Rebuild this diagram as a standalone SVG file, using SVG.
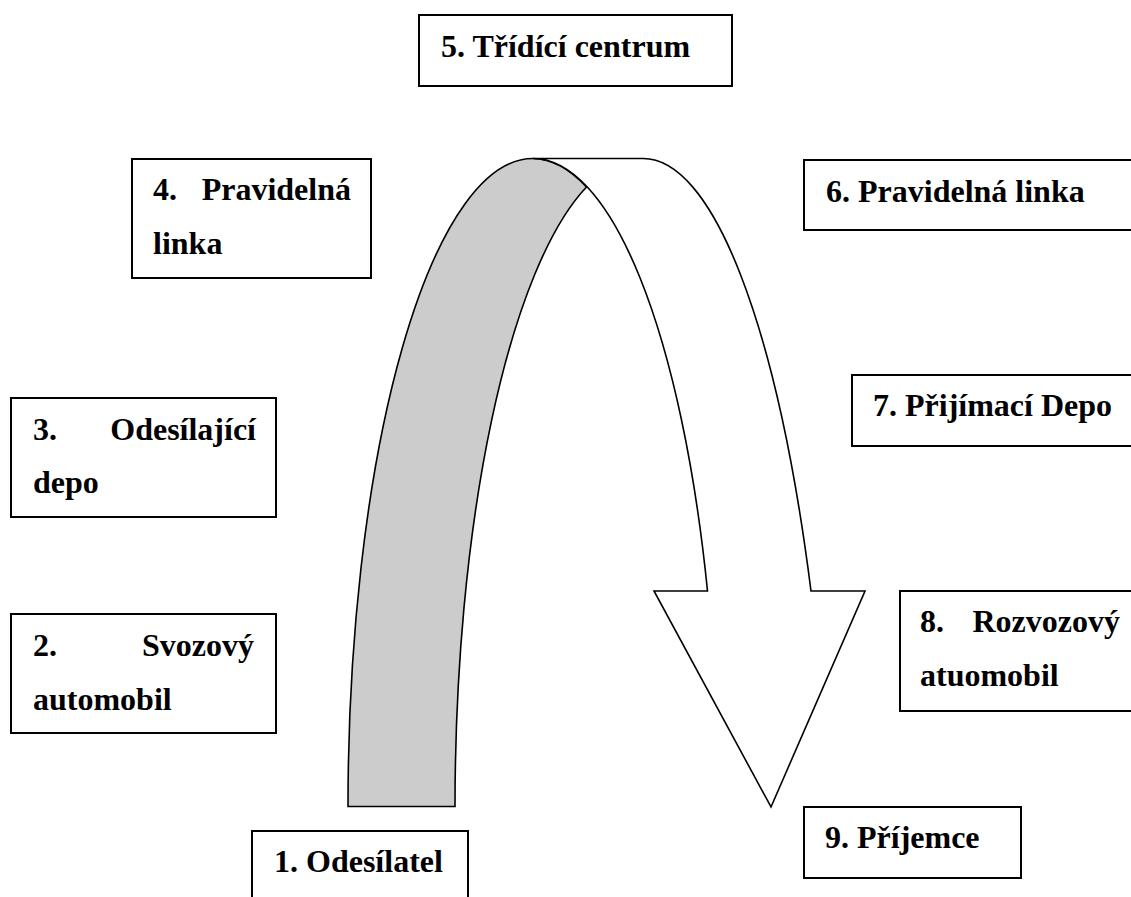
<svg xmlns="http://www.w3.org/2000/svg" width="1131" height="897" viewBox="0 0 1131 897">
  <style>
    .box { fill: #ffffff; stroke: #000000; stroke-width: 2; }
    .lbl { font-family: "Liberation Serif", "Times New Roman", serif; font-weight: bold; font-size: 32px; fill: #000000; }
    .band { stroke: #000000; stroke-width: 1.6; stroke-linejoin: miter; }
    .back { fill: #cccccc; }
    .front { fill: #ffffff; }
  </style>
  <rect x="0" y="0" width="1131" height="897" fill="#ffffff"/>

  <!-- curved flow arrow: shaded rising band, white falling band with head -->
  <g id="connectors">
    <path class="band back" d="M348,806.5 A185,648 0 0 1 533,158.5 A185,648 0 0 1 586.5,187 A185,648 0 0 0 455,806.5 Z"/>
    <path class="band front" d="M533,158.5 L643,158.5 A192,841 0 0 1 811,591 L865,591 L771,807 L654,591 L707.5,591 A185,648 0 0 0 533,158.5 Z"/>
  </g>

  <g id="n5">
    <rect class="box" x="419" y="15" width="313" height="71"/>
    <text class="lbl" x="441" y="57">5. Třídící centrum</text>
  </g>

  <g id="n4">
    <rect class="box" x="132" y="159" width="239" height="119"/>
    <text class="lbl" y="200"><tspan x="153">4.</tspan><tspan x="351" text-anchor="end">Pravidelná</tspan></text>
    <text class="lbl" x="153" y="254">linka</text>
  </g>

  <g id="n6">
    <rect class="box" x="804" y="160" width="340" height="70"/>
    <text class="lbl" x="826" y="202">6. Pravidelná linka</text>
  </g>

  <g id="n3">
    <rect class="box" x="11" y="398" width="265" height="119"/>
    <text class="lbl" y="440"><tspan x="33">3.</tspan><tspan x="256" text-anchor="end">Odesílající</tspan></text>
    <text class="lbl" x="33" y="493">depo</text>
  </g>

  <g id="n7">
    <rect class="box" x="852" y="375" width="292" height="71"/>
    <text class="lbl" x="873" y="416">7. Přijímací Depo</text>
  </g>

  <g id="n2">
    <rect class="box" x="11" y="614" width="265" height="119"/>
    <text class="lbl" y="656"><tspan x="33">2.</tspan><tspan x="254" text-anchor="end">Svozový</tspan></text>
    <text class="lbl" x="33" y="710">automobil</text>
  </g>

  <g id="n8">
    <rect class="box" x="900" y="591" width="244" height="120"/>
    <text class="lbl" y="632"><tspan x="920">8.</tspan><tspan x="1120" text-anchor="end">Rozvozový</tspan></text>
    <text class="lbl" x="920" y="686">atuomobil</text>
  </g>

  <g id="n9">
    <rect class="box" x="804" y="807" width="217" height="71"/>
    <text class="lbl" x="825" y="848">9. Příjemce</text>
  </g>

  <g id="n1">
    <rect class="box" x="252" y="831" width="216" height="80"/>
    <text class="lbl" x="274" y="872">1. Odesílatel</text>
  </g>
</svg>
